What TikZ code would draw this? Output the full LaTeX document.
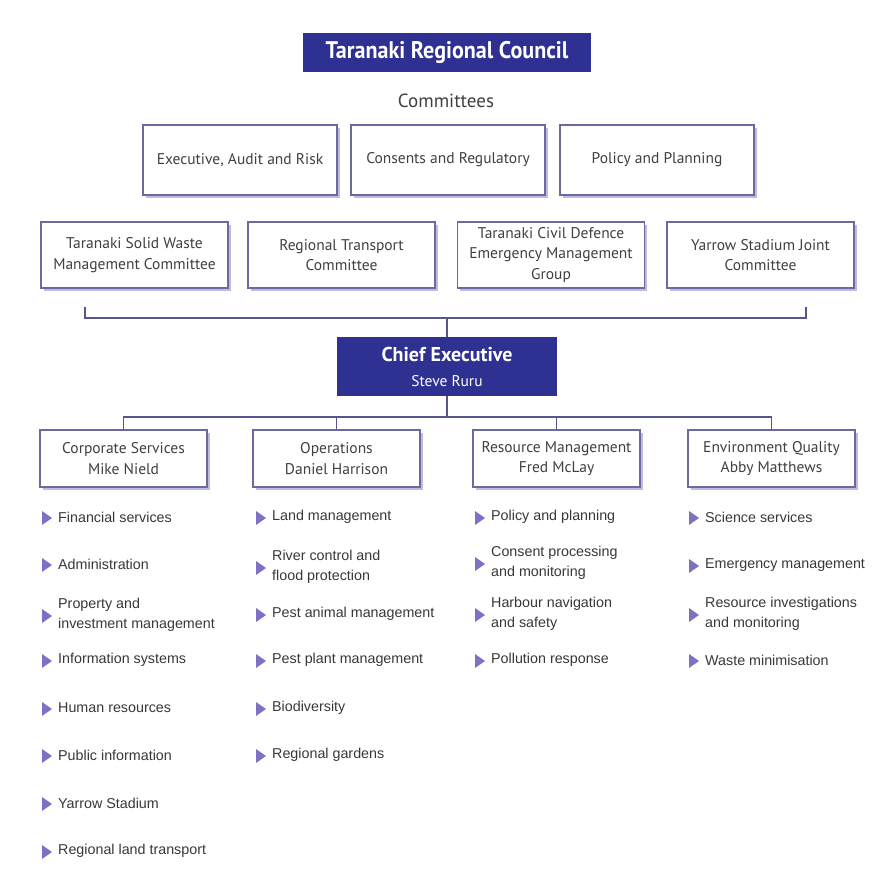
\documentclass[tikz,border=0pt]{standalone}
\usepackage{fontspec}
\setmainfont{PT Sans}
\newfontfamily\listfont{Liberation Sans}
\usepackage{graphicx}
\usepackage{tikz}
\usetikzlibrary{shadows}

\definecolor{trcblue}{HTML}{2E3192}
\definecolor{linec}{HTML}{55558F}
\definecolor{boxline}{HTML}{6A6A9C}
\definecolor{shadowc}{HTML}{B3AEDB}
\definecolor{bulletc}{HTML}{7B72C4}
\definecolor{boxtext}{HTML}{404040}
\definecolor{listtextc}{HTML}{383838}

\tikzset{
  plainbox/.style={draw=boxline, line width=1.2pt, fill=white, align=center,
    text=boxtext, font=\fontsize{15.5}{20.5}\selectfont,
    drop shadow={shadow xshift=2.5pt, shadow yshift=-3pt, fill=shadowc, opacity=0.85}},
  combox/.style={plainbox, minimum width=194pt, minimum height=70pt},
  jointbox/.style={plainbox, minimum width=187pt, minimum height=66pt},
  deptbox/.style={plainbox, minimum width=167pt, minimum height=57pt},
  headbox/.style={fill=trcblue, text=white, align=center},
  link/.style={draw=linec, line width=1.3pt},
  listtext/.style={anchor=west, inner sep=0pt, align=left, text=listtextc,
    font=\listfont\fontsize{14.3}{20}\selectfont}
}

% one list entry: name, x, y, text
\newcommand{\bullitem}[4]{%
  \node[listtext] (#1) at (#2,#3) {#4};
  \fill[bulletc] ([xshift=-16pt,yshift=6pt]#1.west) -- ([xshift=-6pt,yshift=-1pt]#1.west)
    -- ([xshift=-16pt,yshift=-8pt]#1.west) -- cycle;}

\begin{document}
\begin{tikzpicture}[x=1pt, y=-1pt]
\useasboundingbox[fill=white] (0,0) rectangle (877,873);

% council and committees
\node[headbox, minimum width=288pt, minimum height=39pt] (council) at (447,52.5)
  {\fontsize{24}{26}\selectfont\bfseries\scalebox{0.92}[1]{Taranaki Regional Council}};
\node[text=boxtext, font=\fontsize{19}{22}\selectfont] (committees) at (446,101) {Committees};

\node[combox] (audit) at (240,160) {Executive, Audit and Risk};
\node[combox] (consents) at (448,160) {Consents and Regulatory};
\node[combox] (policy) at (657,160) {Policy and Planning};

\node[jointbox] (waste) at (134.5,255) {Taranaki Solid Waste\\Management Committee};
\node[jointbox] (transport) at (341.5,255) {Regional Transport\\Committee};
\node[jointbox] (cdem) at (551,255) {Taranaki Civil Defence\\Emergency Management\\Group};
\node[jointbox] (stadium) at (760.5,255) {Yarrow Stadium Joint\\Committee};

\coordinate (brL) at (85,307);
\coordinate (brR) at (806,307);
\coordinate (bar) at (447,318);
\draw[link] (brL) |- (bar) -| (brR);

% chief executive
\node[headbox, minimum width=220pt, minimum height=59pt,
  font=\fontsize{20}{25}\selectfont] (chief) at (447,366.5)
  {\textbf{Chief Executive}\\{\fontsize{15.5}{25}\selectfont Steve Ruru}};
\draw[link] (bar) -- (chief.north);

% departments
\node[deptbox] (corp) at (123.5,458.5) {Corporate Services\\Mike Nield};
\node[deptbox] (ops) at (336.5,458.5) {Operations\\Daniel Harrison};
\node[deptbox] (resman) at (556.5,458.5) {Resource Management\\Fred McLay};
\node[deptbox] (envq) at (771.5,458.5) {Environment Quality\\Abby Matthews};

\coordinate (dbar) at (447,417);
\draw[link] (chief.south) -- (dbar);
\draw[link] (corp.north) |- (dbar) -| (envq.north);
\draw[link] (ops.north) -- (ops.north |- dbar);
\draw[link] (resman.north) -- (resman.north |- dbar);

% corporate services
\bullitem{fin}{58}{517}{Financial services}
\bullitem{admin}{58}{564}{Administration}
\bullitem{prop}{58}{615}{Property and\\investment management}
\bullitem{infosys}{58}{660}{Information systems}
\bullitem{hr}{58}{708}{Human resources}
\bullitem{pubinfo}{58}{755}{Public information}
\bullitem{yarrow}{58}{803}{Yarrow Stadium}
\bullitem{landtr}{58}{851}{Regional land transport}

% operations
\bullitem{land}{272}{517}{Land management}
\bullitem{river}{272}{567}{River control and\\flood protection}
\bullitem{pestan}{272}{614}{Pest animal management}
\bullitem{pestpl}{272}{660}{Pest plant management}
\bullitem{biodiv}{272}{708}{Biodiversity}
\bullitem{gardens}{272}{755}{Regional gardens}

% resource management
\bullitem{polplan}{491}{517}{Policy and planning}
\bullitem{consent}{491}{563}{Consent processing\\and monitoring}
\bullitem{harbour}{491}{614}{Harbour navigation\\and safety}
\bullitem{pollution}{491}{660}{Pollution response}

% environment quality
\bullitem{science}{705}{517}{Science services}
\bullitem{emerg}{705}{565}{Emergency management}
\bullitem{resinv}{705}{614}{Resource investigations\\and monitoring}
\bullitem{wastemin}{705}{660}{Waste minimisation}

\end{tikzpicture}
\end{document}
